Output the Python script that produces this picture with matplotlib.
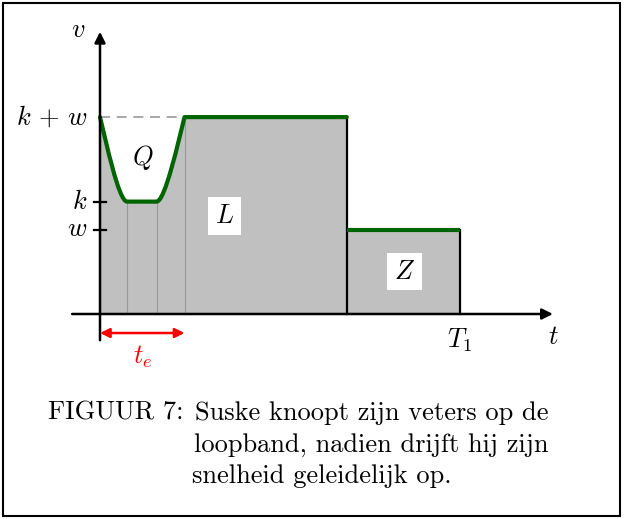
import matplotlib
matplotlib.use("Agg")
import matplotlib.pyplot as plt
from matplotlib.path import Path
from matplotlib.patches import PathPatch, FancyArrowPatch, Rectangle

plt.rcParams['mathtext.fontset'] = 'cm'
plt.rcParams['font.family'] = 'cmr10'

# snelheden (eenheid: w)
w = 1.0
k = 1.33
kw = k + w

# tijdstippen
t_dip = 0.32      # einde van de daling
t_up = 0.67       # begin van de stijging
t_e = 1.0         # terug op k+w
t_s = 2.92        # overgang naar Z
T_1 = 4.26

y_ticks = [kw, k, w]
y_labels = [r'$k\/+\/w$', r'$k$', r'$w$']

caption_label = 'FIGUUR 7:'
caption_lines = ['Suske knoopt zijn veters op de',
                 'loopband, nadien drijft hij zijn',
                 'snelheid geleidelijk op.']

fig = plt.figure(figsize=(6.24, 5.19), dpi=100)
ax = fig.add_axes([0, 0, 1, 1])
scale = 84.5
ax.set_xlim(-100 / scale, 524 / scale)
ax.set_ylim(-205 / scale, 314 / scale)
ax.axis('off')

green = '#006400'
grey = '#c0c0c0'
fs = 19

# dip in snelheid bij het knopen van de veters
dip = [
    ((0, kw), Path.MOVETO),
    ((0.07, 2.05), Path.CURVE4), ((t_dip - 0.10, k), Path.CURVE4), ((t_dip, k), Path.CURVE4),
    ((t_up, k), Path.LINETO),
    ((t_up + 0.10, k), Path.CURVE4), ((t_e - 0.07, 2.05), Path.CURVE4), ((t_e, kw), Path.CURVE4),
    ((t_s, kw), Path.LINETO),
]

fill = [((0, 0), Path.MOVETO), ((0, kw), Path.LINETO)] + dip[1:] + [
    ((t_s, w), Path.LINETO), ((T_1, w), Path.LINETO),
    ((T_1, 0), Path.LINETO), ((0, 0), Path.CLOSEPOLY)]
verts, codes = zip(*fill)
ax.add_patch(PathPatch(Path(verts, codes), fc=grey, ec='none', zorder=1))

# hulplijnen
for t, top in [(t_dip, k), (t_up, k), (t_e, kw)]:
    ax.plot([t, t], [0, top], color='#999999', lw=0.8, zorder=2)
ax.plot([0, t_e], [kw, kw], color='#999999', lw=1.2, dashes=(6, 4), zorder=2)

ax.plot([t_s, t_s], [0, kw], color='black', lw=1.6, zorder=3)
ax.plot([T_1, T_1], [0, w], color='black', lw=1.6, zorder=3)

verts, codes = zip(*dip)
ax.add_patch(PathPatch(Path(verts, codes), fc='none', ec=green, lw=3,
                       capstyle='round', joinstyle='round', zorder=4))
ax.plot([t_s, T_1], [w, w], color=green, lw=3, solid_capstyle='butt', zorder=4)

# assen
ax.add_patch(FancyArrowPatch((-0.33, 0), (5.36, 0), arrowstyle='-|>', mutation_scale=16,
                             lw=1.8, color='black', shrinkA=0, shrinkB=0, zorder=5))
ax.add_patch(FancyArrowPatch((0, -0.31), (0, 3.34), arrowstyle='-|>', mutation_scale=16,
                             lw=1.8, color='black', shrinkA=0, shrinkB=0, zorder=5))

for y, lab in zip(y_ticks, y_labels):
    if y != kw:
        ax.plot([-0.07, 0.07], [y, y], color='black', lw=1.6, zorder=5)
    ax.text(-0.15, y, lab, ha='right', va='center', fontsize=fs)

ax.text(-0.26, 3.36, r'$v$', ha='center', va='center', fontsize=fs)
ax.text(5.36, -0.27, r'$t$', ha='center', va='center', fontsize=fs)
ax.text(T_1, -0.31, r'$T_1$', ha='center', va='center', fontsize=fs)

# t_e pijl
ax.add_patch(FancyArrowPatch((0, -0.225), (t_e, -0.225), arrowstyle='<|-|>', mutation_scale=14,
                             lw=1.8, color='red', shrinkA=0, shrinkB=0, zorder=5))
ax.text(t_e / 2, -0.51, r'$t_e$', ha='center', va='center', fontsize=fs, color='red')

ax.text(0.5, 1.85, r'$Q$', ha='center', va='center', fontsize=fs)
box = dict(fc='white', ec='none', pad=5)
ax.text(1.47, 1.16, r'$L$', ha='center', va='center', fontsize=fs, bbox=box)
ax.text(3.6, 0.50, r'$Z$', ha='center', va='center', fontsize=fs, bbox=box)

# bijschrift met hangende inspringing
cs = 19.0
fig.text(48 / 624, 1 - 420 / 519, caption_label, ha='left', va='baseline', fontsize=cs)
for x, y, line in zip([195, 194, 192], [420, 451.5, 483], caption_lines):
    fig.text(x / 624, 1 - y / 519, line, ha='left', va='baseline', fontsize=cs)

fig.add_artist(Rectangle((3 / 624, 3 / 519), 617 / 624, 513 / 519, transform=fig.transFigure,
                         fc='none', ec='black', lw=1.5))

fig.savefig('out.png', dpi=100)
